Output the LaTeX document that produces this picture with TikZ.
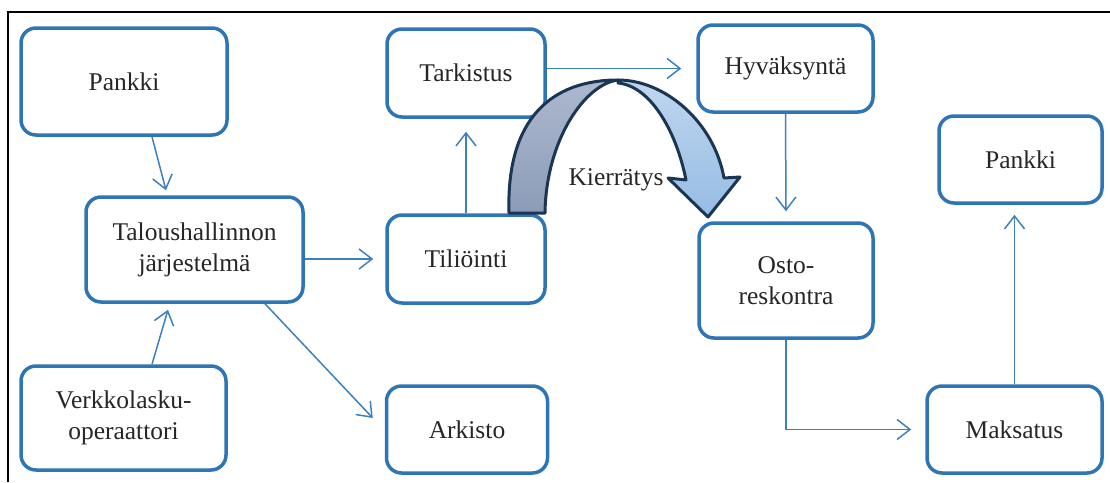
\documentclass[tikz,border=0pt]{standalone}
\usepackage{fontspec}
\setmainfont{Liberation Serif}
\usetikzlibrary{arrows.meta,calc}

\definecolor{boxblue}{RGB}{46,117,182}
\definecolor{linkblue}{RGB}{60,128,192}
\definecolor{textgray}{RGB}{38,38,38}
\definecolor{bandbacktop}{RGB}{172,184,206}
\definecolor{bandbackbot}{RGB}{140,156,184}
\definecolor{bandfronttop}{RGB}{192,214,238}
\definecolor{bandfrontbot}{RGB}{150,188,228}
\definecolor{bandedge}{RGB}{26,54,82}

\begin{document}
\begin{tikzpicture}[x=1pt,y=-1pt,
  stepbox/.style={draw=boxblue, line width=3.5pt, rounded corners=15pt,
    fill=white, text=textgray, align=center, inner sep=0pt,
    font=\fontsize{25.5}{31}\selectfont},
  link/.style={draw=linkblue, line width=1.5pt,
    -{Straight Barb[length=13pt,width=20pt,line width=1.5pt]}},
  band/.style={draw=bandedge, line width=3pt, line join=round},
]
\useasboundingbox (0,0) rectangle (1110,482);

% partial frame: top and left edges
\draw[black, line width=2pt] (8,482) -- (8,12) -- (1110,12);

% process steps
\node[stepbox, minimum width=206pt, minimum height=107pt] (pankA)    at (124,81.5)    {Pankki};
\node[stepbox, minimum width=217pt, minimum height=105pt] (talous)   at (194.5,249.5) {Taloushallinnon\\järjestelmä};
\node[stepbox, minimum width=205pt, minimum height=104pt] (verkko)   at (123.5,418)   {Verkkolasku-\\operaattori};
\node[stepbox, minimum width=158pt, minimum height=88pt]  (tarkistus) at (466,73)     {Tarkistus};
\node[stepbox, minimum width=158pt, minimum height=88pt]  (tilioint) at (466,259)     {Tiliöinti};
\node[stepbox, minimum width=161pt, minimum height=87pt]  (arkisto)  at (467,429.5)   {Arkisto};
\node[stepbox, minimum width=175pt, minimum height=87pt]  (hyvaks)   at (785.5,68.5)  {Hyväksyntä};
\node[stepbox, minimum width=174pt, minimum height=115pt] (osto)     at (786,280.5)   {Osto-\\reskontra};
\node[stepbox, minimum width=163pt, minimum height=87pt]  (pankB)    at (1020.5,159.5) {Pankki};
\node[stepbox, minimum width=175pt, minimum height=87pt]  (maksatus) at (1014.5,429.5) {Maksatus};

% connectors
\draw[link] ($(pankA.south)+(28,0)$) -- ($(talous.north)+(-28.5,-5)$);
\draw[link] ($(verkko.north)+(28.5,0)$) -- ($(talous.south)+(-26.5,6)$);
\draw[link] (talous.east |- tilioint.west) -- ($(tilioint.west)+(-12,0)$);
\draw[link] ($(talous.south)+(70.5,0)$) -- ($(arkisto.west)+(-12,-11.5)$);
\draw[link] (tilioint.north) -- ($(tarkistus.south)+(0,13)$);
\draw[link] (tarkistus.east |- hyvaks.west) -- ($(hyvaks.west)+(-15,0)$);
\draw[link] (hyvaks.south) -- ($(osto.north)+(0,-10)$);
\draw[link] (osto.south) |- ($(maksatus.west)+(-14,0)$);
\draw[link] (maksatus.north) -- ($(maksatus.north |- pankB.south)+(0,10)$);

% circulation arrow: back band on the left, front band with head on the right
\coordinate (peakOut) at (618,80);
\coordinate (peakIn)  at (618,83);
\path[band, top color=bandbacktop, bottom color=bandbackbot]
  (509,213) .. controls (506,118) and (552,80) .. (peakOut)
  .. controls (585,84) and (546,140) .. (545,213) -- cycle;
\path[band, top color=bandfronttop, bottom color=bandfrontbot]
  (peakOut) .. controls (665,80) and (714,122) .. (724,178)
  -- (740,177) -- (708,217) -- (668,178) -- (686,180)
  .. controls (676,130) and (650,86) .. (peakIn) -- cycle;

\node[text=textgray, font=\fontsize{25.5}{31}\selectfont, anchor=base] (kierto) at (616,185) {Kierrätys};
\end{tikzpicture}
\end{document}
